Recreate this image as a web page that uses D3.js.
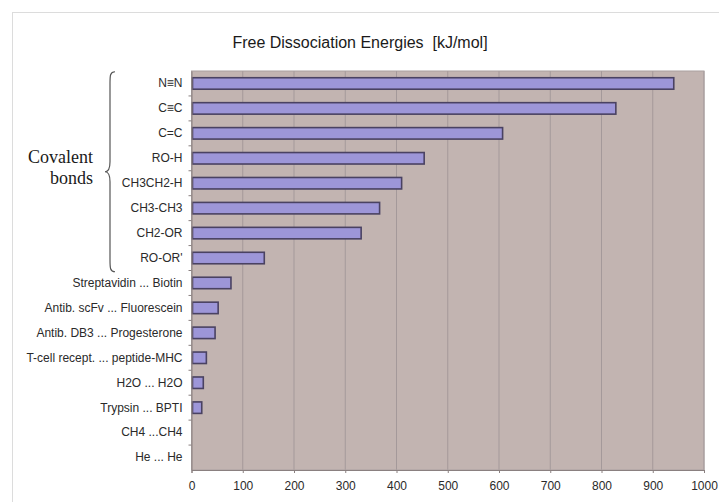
<!DOCTYPE html>
<html>
<head>
<meta charset="utf-8">
<script src="https://cdn.jsdelivr.net/npm/d3@7"></script>
<style>
  html, body { margin: 0; padding: 0; background: #ffffff; }
  svg { display: block; }
</style>
</head>
<body>
<svg id="chart" width="719" height="502"></svg>
<script>
const categories = [
  "N\u2261N", "C\u2261C", "C=C", "RO-H", "CH3CH2-H", "CH3-CH3", "CH2-OR", "RO-OR'",
  "Streptavidin ... Biotin", "Antib. scFv ... Fluorescein", "Antib. DB3 ... Progesterone",
  "T-cell recept. ... peptide-MHC", "H2O ... H2O", "Trypsin ... BPTI", "CH4 ...CH4", "He ... He"
];
const energies = [941, 828, 607, 454, 410, 367, 331, 142, 77, 52, 46, 29, 23, 20, 0, 0];
const xTicks = [0, 100, 200, 300, 400, 500, 600, 700, 800, 900, 1000];
const titleText = "Free Dissociation Energies  [kJ/mol]";
const groupLabel = ["Covalent", "bonds"];

const svg = d3.select("#chart");

// outer frame
svg.append("rect").attr("x", 12.5).attr("y", 12.5).attr("width", 740).attr("height", 520)
  .attr("fill", "#ffffff").attr("stroke", "#dcdcdc").attr("stroke-width", 1);

const pL = 191.5, pR = 704, pT = 71, pB = 470;
const x = d3.scaleLinear().domain([0, 1000]).range([pL, pR]);
const y = d3.scaleBand().domain(categories).range([pT, pB])
  .paddingInner(0.54).paddingOuter(0.27);

// plot background
svg.append("rect").attr("x", pL).attr("y", pT).attr("width", pR - pL).attr("height", pB - pT)
  .attr("fill", "#c2b4b1");

// gridlines
svg.append("g").selectAll("line").data(xTicks.slice(1)).join("line")
  .attr("x1", d => x(d)).attr("x2", d => x(d)).attr("y1", pT).attr("y2", pB)
  .attr("stroke", "#a4999a").attr("stroke-width", 1);

// plot border
svg.append("rect").attr("x", pL).attr("y", pT).attr("width", pR - pL).attr("height", pB - pT)
  .attr("fill", "none").attr("stroke", "#aaa0a0").attr("stroke-width", 1);

// bars
svg.append("g").selectAll("rect").data(categories.map((c, i) => ({c, v: energies[i]})).filter(d => d.v > 0))
  .join("rect")
  .attr("x", x(0) + 1).attr("y", d => y(d.c))
  .attr("width", d => x(d.v) - x(0) - 1).attr("height", y.bandwidth())
  .attr("fill", "#9d96d8").attr("stroke", "#4a4262").attr("stroke-width", 1.6);

// y axis
const yAxis = d3.axisLeft(y).tickSize(0).tickPadding(9);
const gy = svg.append("g").attr("transform", `translate(${pL},0)`).call(yAxis);
gy.select(".domain").attr("stroke", "#8a8080");
gy.selectAll("text").attr("font-family", "Arial, 'Liberation Sans', sans-serif")
  .attr("font-size", 12).attr("fill", "#2a2a2a");

// category separators (small ticks)
svg.append("g").selectAll("line").data(categories.slice(1)).join("line")
  .attr("x1", pL - 3).attr("x2", pL)
  .attr("y1", d => y(d) - y.step() * y.paddingInner() / 2)
  .attr("y2", d => y(d) - y.step() * y.paddingInner() / 2)
  .attr("stroke", "#8a8080");

// x axis
const xAxis = d3.axisBottom(x).tickValues(xTicks).tickFormat(d3.format("d"))
  .tickSize(3).tickPadding(8);
const gx = svg.append("g").attr("transform", `translate(0,${pB})`).call(xAxis);
gx.select(".domain").attr("stroke", "#8a8080");
gx.selectAll("line").attr("stroke", "#8a8080");
gx.selectAll("text").attr("font-family", "Arial, 'Liberation Sans', sans-serif")
  .attr("font-size", 12).attr("fill", "#2a2a2a");

// title
svg.append("text").attr("x", 360).attr("y", 48).attr("text-anchor", "middle")
  .attr("font-family", "Arial, 'Liberation Sans', sans-serif").attr("font-size", 16)
  .style("white-space", "pre").attr("xml:space", "preserve")
  .attr("fill", "#1a1a1a").text(titleText);

// brace over covalent group
const bTop = y(categories[0]) - 6, bBot = y(categories[7]) + y.bandwidth() + 8;
const bMid = (bTop + bBot) / 2;
const bx = 110, bw = 5;
svg.append("path")
  .attr("d", `M${bx + bw},${bTop} C${bx},${bTop} ${bx},${bTop + 4} ${bx},${bTop + 12}
    L${bx},${bMid - 10} C${bx},${bMid - 3} ${bx - 2},${bMid} ${bx - bw},${bMid}
    C${bx - 2},${bMid} ${bx},${bMid + 3} ${bx},${bMid + 10}
    L${bx},${bBot - 12} C${bx},${bBot - 4} ${bx},${bBot} ${bx + bw},${bBot}`)
  .attr("fill", "none").attr("stroke", "#555").attr("stroke-width", 1.2);

svg.append("g").selectAll("text").data(groupLabel).join("text")
  .attr("x", 93).attr("y", (d, i) => 163 + i * 21).attr("text-anchor", "end")
  .attr("font-family", "'Liberation Serif', 'Times New Roman', serif").attr("font-size", 18)
  .attr("fill", "#1a1a1a").text(d => d);
</script>
</body>
</html>
